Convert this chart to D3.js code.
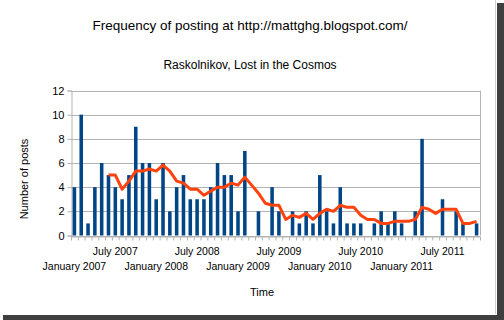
<!DOCTYPE html>
<html>
<head>
<meta charset="utf-8">
<script src="https://cdn.jsdelivr.net/npm/d3@7"></script>
<style>
  body { margin: 0; background: #fff; }
  text { font-family: "Liberation Sans", Arial, sans-serif; fill: #000; }
</style>
</head>
<body>
<div id="chart"></div>
<script>
// posts per month, January 2007 .. December 2011
const posts = [
  4, 10, 1, 4, 6, 5, 4, 3, 5, 9, 6, 6,
  3, 6, 2, 4, 5, 3, 3, 3, 4, 6, 5, 5,
  2, 7, 0, 2, 0, 4, 2, 0, 2, 1, 2, 1,
  5, 2, 1, 4, 1, 1, 1, 0, 1, 2, 1, 2,
  1, 0, 2, 8, 0, 0, 3, 0, 2, 1, 0, 1
];

// trend line (6 month moving average), starts at June 2007
const trendStart = 5;
const trend = [
  5.00, 5.00, 3.83, 4.50, 5.33, 5.33, 5.50,
  5.33, 5.83, 5.33, 4.50, 4.33, 3.83, 3.83, 3.33, 3.67, 4.00, 4.00, 4.33,
  4.17, 4.83, 4.17, 3.50, 2.67, 2.50, 2.50, 1.33, 1.67, 1.50, 1.83, 1.33,
  1.83, 2.17, 2.00, 2.50, 2.33, 2.33, 1.67, 1.33, 1.33, 1.00, 1.00, 1.17,
  1.17, 1.17, 1.33, 2.33, 2.17, 1.83, 2.17, 2.17, 2.17, 1.00, 1.00, 1.17
];

const tickLabels = [
  { i: 0, text: "January 2007", row: 1 },
  { i: 6, text: "July 2007", row: 0 },
  { i: 12, text: "January 2008", row: 1 },
  { i: 18, text: "July 2008", row: 0 },
  { i: 24, text: "January 2009", row: 1 },
  { i: 30, text: "July 2009", row: 0 },
  { i: 36, text: "January 2010", row: 1 },
  { i: 42, text: "July 2010", row: 0 },
  { i: 48, text: "January 2011", row: 1 },
  { i: 54, text: "July 2011", row: 0 }
];
const yTicks = [0, 2, 4, 6, 8, 10, 12];

const width = 504;
const height = 320;
const plot = { left: 71, right: 480, top: 90.5, bottom: 235.5 };

const svg = d3
  .select("#chart")
  .append("svg")
  .attr("width", width)
  .attr("height", height);

// frame + shadow of the picture
svg.append("rect").attr("x", 497).attr("y", 3).attr("width", 7).attr("height", 317).attr("fill", "#3f3f3f");
svg.append("rect").attr("x", 3).attr("y", 315).attr("width", 501).attr("height", 5).attr("fill", "#3f3f3f");
svg.append("line").attr("x1", 495.5).attr("x2", 495.5).attr("y1", 0).attr("y2", 314)
  .attr("stroke", "#cfcfcf");

const x = d3
  .scaleBand()
  .domain(d3.range(posts.length))
  .range([plot.left, plot.right])
  .paddingInner(0.48)
  .paddingOuter(0.24);

// boundaries between months
const xEdge = d3.scaleLinear().domain([0, posts.length]).range([plot.left, plot.right]);
const xMid = (i) => xEdge(i + 0.5);

const y = d3.scaleLinear().domain([0, 12]).range([plot.bottom, plot.top]);

// gridlines
svg
  .append("g")
  .selectAll("line")
  .data(yTicks)
  .enter()
  .append("line")
  .attr("x1", plot.left)
  .attr("x2", plot.right)
  .attr("y1", (d) => Math.round(y(d)) + 0.5)
  .attr("y2", (d) => Math.round(y(d)) + 0.5)
  .attr("stroke", "#b3b3b3");

svg
  .append("line")
  .attr("x1", plot.right + 0.5)
  .attr("x2", plot.right + 0.5)
  .attr("y1", plot.top)
  .attr("y2", plot.bottom)
  .attr("stroke", "#b3b3b3");

// y axis
const yAxis = svg
  .append("g")
  .attr("transform", `translate(${plot.left + 0.5},0)`)
  .call(d3.axisLeft(y).tickValues(yTicks).tickSize(4).tickPadding(3));
yAxis.selectAll("path, line").attr("stroke", "#b3b3b3");
yAxis.selectAll("text").style("font-size", "11px").attr("fill", "#000")
  .style("font-family", "'Liberation Sans', Arial, sans-serif");

// x axis ticks
const xAxis = svg
  .append("g")
  .attr("transform", `translate(0,${Math.round(plot.bottom) + 0.5})`)
  .call(d3.axisBottom(xEdge).tickValues(d3.range(posts.length + 1)).tickFormat("").tickSize(4).tickSizeOuter(0));
xAxis.selectAll("path, line").attr("stroke", "#b3b3b3");

// bars
svg
  .append("g")
  .selectAll("rect")
  .data(posts)
  .enter()
  .append("rect")
  .attr("x", (d, i) => x(i))
  .attr("y", (d) => y(d))
  .attr("width", x.bandwidth())
  .attr("height", (d) => y(0) - y(d))
  .attr("fill", "#004586");

// moving average
const line = d3
  .line()
  .x((d, i) => xMid(i + trendStart))
  .y((d) => y(d));

svg
  .append("path")
  .datum(trend)
  .attr("d", line)
  .attr("fill", "none")
  .attr("stroke", "#ff420e")
  .attr("stroke-width", 3)
  .attr("stroke-linejoin", "round");

// x labels, staggered
svg
  .append("g")
  .selectAll("text")
  .data(tickLabels)
  .enter()
  .append("text")
  .attr("x", (d) => xMid(d.i))
  .attr("y", (d) => (d.row === 0 ? 255 : 269.5))
  .attr("text-anchor", "middle")
  .style("font-size", "10.5px")
  .text((d) => d.text);

// titles
svg.append("text").attr("x", 250).attr("y", 30).attr("text-anchor", "middle")
  .style("font-size", "13.5px").text("Frequency of posting at http://mattghg.blogspot.com/");
svg.append("text").attr("x", 250).attr("y", 68.5).attr("text-anchor", "middle")
  .style("font-size", "12px").text("Raskolnikov, Lost in the Cosmos");
svg.append("text").attr("x", 262).attr("y", 296).attr("text-anchor", "middle")
  .style("font-size", "11px").text("Time");
svg.append("text").attr("transform", "translate(28,179) rotate(-90)").attr("text-anchor", "middle")
  .style("font-size", "11px").text("Number of posts");
</script>
</body>
</html>
